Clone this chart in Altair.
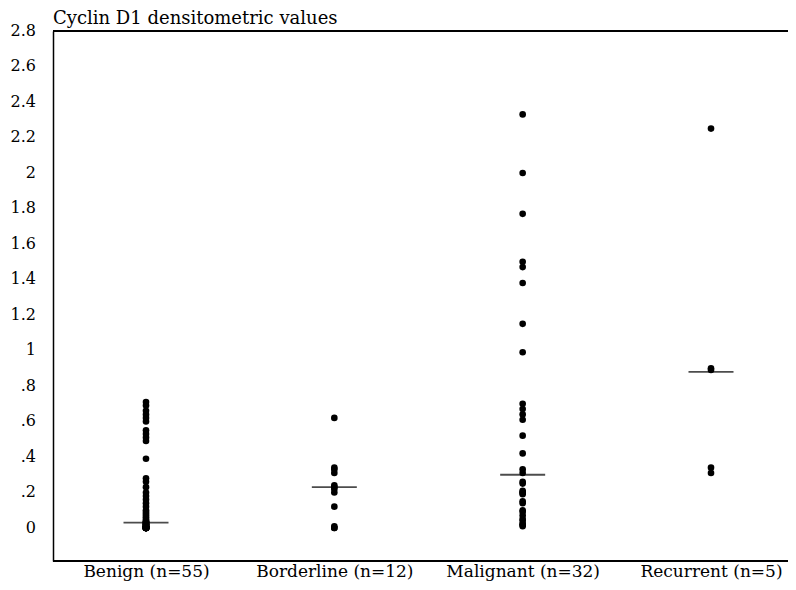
import altair as alt
import pandas as pd

categories = ["Benign (n=55)", "Borderline (n=12)", "Malignant (n=32)", "Recurrent (n=5)"]

benign = [0.71, 0.69, 0.66, 0.64, 0.62, 0.60, 0.55, 0.53, 0.51, 0.49, 0.39,
          0.28, 0.26, 0.23, 0.20, 0.18, 0.16, 0.14, 0.12, 0.10, 0.09, 0.08,
          0.07, 0.06, 0.05, 0.04, 0.04, 0.03, 0.03, 0.03, 0.03, 0.02, 0.02,
          0.02, 0.02, 0.02, 0.01, 0.01, 0.01, 0.01, 0.01, 0.01, 0.00, 0.00,
          0.00, 0.00, 0.00, 0.00, 0.00, 0.00, 0.00, 0.00, 0.00, 0.00, 0.00]
borderline = [0.62, 0.34, 0.33, 0.31, 0.24, 0.23, 0.22, 0.20, 0.12, 0.01, 0.00, 0.00]
malignant = [2.33, 2.00, 1.77, 1.50, 1.47, 1.38, 1.15, 0.99, 0.70, 0.67, 0.64,
             0.61, 0.52, 0.42, 0.33, 0.31, 0.26, 0.25, 0.21, 0.20, 0.20, 0.19,
             0.15, 0.14, 0.10, 0.09, 0.07, 0.05, 0.04, 0.02, 0.02, 0.01]
recurrent = [2.25, 0.90, 0.89, 0.34, 0.31]
medians = [0.03, 0.23, 0.30, 0.88]
y_ticks = [0, 0.2, 0.4, 0.6, 0.8, 1.0, 1.2, 1.4, 1.6, 1.8, 2.0, 2.2, 2.4, 2.6, 2.8]
y_tick_labels = ["0", ".2", ".4", ".6", ".8", "1", "1.2", "1.4", "1.6", "1.8",
                 "2", "2.2", "2.4", "2.6", "2.8"]

rows = []
for cat, vals in zip(categories, [benign, borderline, malignant, recurrent]):
    for v in vals:
        rows.append({"group": cat, "value": v})
points_df = pd.DataFrame(rows)
med_df = pd.DataFrame({"group": categories, "value": medians})
tick_df = pd.DataFrame({"value": y_ticks, "label": y_tick_labels})

FONT = "DejaVu Serif"
W, H = 735, 530

y_scale = alt.Scale(domain=[-0.186, 2.8], nice=False, zero=False)

x_enc = alt.X("group:N", sort=categories,
              scale=alt.Scale(type="point", range=[93, 658], padding=0),
              axis=alt.Axis(title=None, labelAngle=0, ticks=False, domain=False,
                            grid=False, labelFont=FONT, labelFontSize=17,
                            labelColor="black", labelPadding=2))
y_enc = alt.Y("value:Q", scale=y_scale,
              axis=alt.Axis(title=None, labels=False, ticks=False, grid=False,
                            domainColor="black", domainWidth=1.5))

pts = alt.Chart(points_df).mark_circle(size=44, color="black", opacity=1).encode(x=x_enc, y=y_enc)
med = alt.Chart(med_df).mark_tick(color="black", size=45, thickness=1.8, orient="horizontal").encode(
    x=alt.X("group:N", sort=categories), y=alt.Y("value:Q", scale=y_scale))

tick_labels = alt.Chart(tick_df).mark_text(
    align="right", baseline="middle", font=FONT, fontSize=16, color="black"
).encode(x=alt.value(-17), y=alt.Y("value:Q", scale=y_scale), text="label:N")

top_line = alt.Chart(med_df).mark_rule(color="black", strokeWidth=1.5).encode(
    x=alt.value(0), x2=alt.value(W), y=alt.value(0))
bottom_line = alt.Chart(med_df).mark_rule(color="black", strokeWidth=1.8).encode(
    x=alt.value(0), x2=alt.value(W), y=alt.value(H))

chart = alt.layer(pts, med, tick_labels, top_line, bottom_line).properties(
    width=W, height=H,
    title=alt.TitleParams("Cyclin D1 densitometric values", anchor="start", frame="group",
                          font=FONT, fontSize=18, fontWeight="normal", color="black",
                          offset=1, dy=6),
    autosize="none",
    padding={"left": 45, "top": 23, "right": 0, "bottom": 21},
).configure_view(stroke=None).configure(background="white")

chart.save("out.html", embed_options={"renderer": "svg", "actions": False})
